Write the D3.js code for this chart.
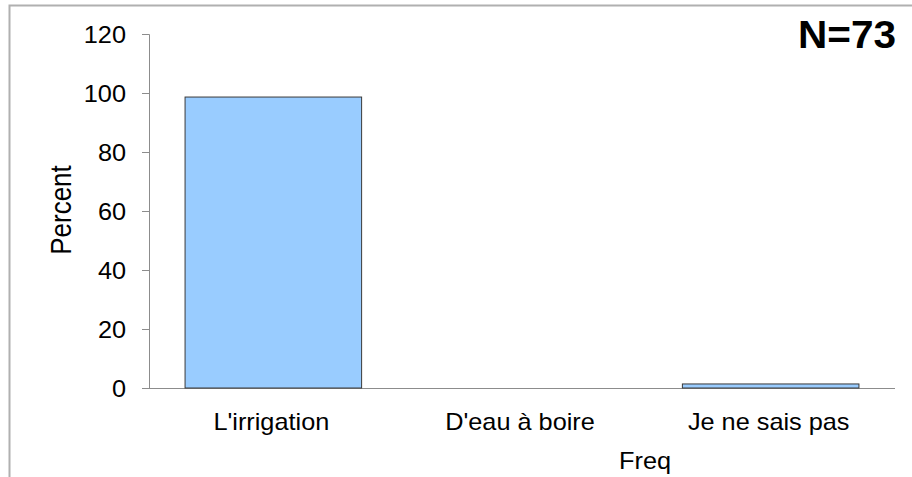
<!DOCTYPE html>
<html><head><meta charset="utf-8">
<script src="https://cdn.jsdelivr.net/npm/d3@7"></script>
<style>body{margin:0;background:#fff}svg{display:block}text{font-family:"Liberation Sans",Arial,sans-serif}</style>
</head><body>
<svg id="c" width="912" height="477"></svg>
<script>
const categories = ["L'irrigation", "D'eau à boire", "Je ne sais pas"];
const percents = [98.63, 0, 1.37];
const yTicks = [0, 20, 40, 60, 80, 100, 120];
const nLabel = "N=73";
const xTitle = "Freq";
const yTitle = "Percent";

const svg = d3.select("#c");
const W = 912, H = 477;
const m = {left: 149, right: 17, top: 34, bottom: 89};
const FS = 23, SX = 1.1;

// frame
svg.append("path").attr("d", `M9.5,${H} V5.5 H${W}`).attr("fill","none").attr("stroke","#b0b0b0").attr("stroke-width",2);

const x = d3.scaleBand().domain(categories).range([m.left, W - m.right]).paddingInner(0.29).paddingOuter(0.145);
const y = d3.scaleLinear().domain([0, 120]).range([H - m.bottom, m.top]);

const yAxis = svg.append("g").attr("transform", `translate(${m.left},0)`)
  .call(d3.axisLeft(y).tickValues(yTicks).tickSize(7).tickPadding(16));
yAxis.select(".domain").attr("stroke","#8c8c8c").attr("d", `M-7,${y(120)}.5H0.5V${y(0)}`);
yAxis.selectAll(".tick line").attr("stroke","#8c8c8c");
yAxis.selectAll(".tick text").attr("font-size",FS).attr("fill","#000")
  .attr("font-family","Liberation Sans, Arial, sans-serif")
  .attr("x", 0).attr("dy","0.36em").attr("transform", `translate(-23,0) scale(${SX},1)`);

svg.append("line").attr("x1", m.left - 7).attr("x2", W - m.right).attr("y1", y(0)+0.5).attr("y2", y(0)+0.5).attr("stroke","#8c8c8c");

svg.selectAll("rect.bar").data(categories).join("rect").attr("class","bar")
  .attr("x", d => x(d)).attr("width", x.bandwidth())
  .attr("y", (d,i) => y(percents[i])).attr("height", (d,i) => y(0) - y(percents[i]))
  .attr("fill","#99ccff").attr("stroke","#3a3a3a").attr("stroke-width",1)
  .style("display", (d,i) => percents[i] > 0 ? null : "none");

svg.selectAll("text.cat").data(categories).join("text").attr("class","cat")
  .attr("transform", d => `translate(${x(d) + x.bandwidth()/2 - 2},430) scale(${SX},1)`)
  .attr("text-anchor","middle").attr("font-size",FS).text(d => d);

svg.append("text").attr("transform", `translate(645,469) scale(${SX},1)`).attr("text-anchor","middle").attr("font-size",FS).text(xTitle);
svg.append("text").attr("transform", `translate(71,210) rotate(-90) scale(1,${SX})`).attr("text-anchor","middle").attr("font-size",26).text(yTitle);
svg.append("text").attr("transform", "translate(896,48) scale(1.04,1)").attr("text-anchor","end").attr("font-size",39).attr("font-weight","bold").text(nLabel);
</script>
</body></html>
